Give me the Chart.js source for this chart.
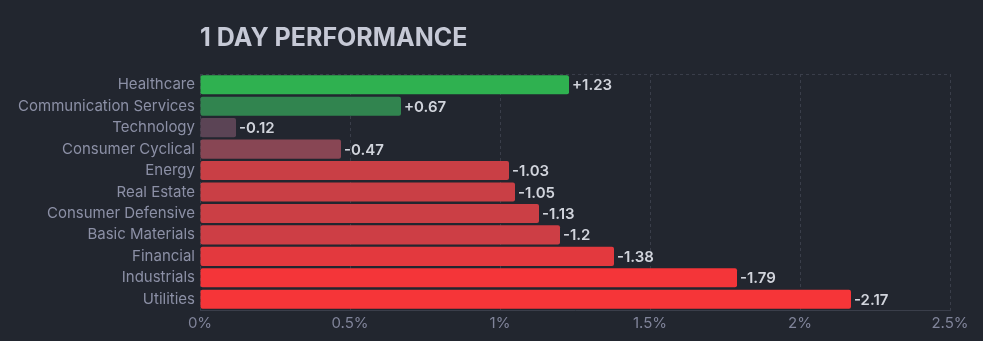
<!DOCTYPE html>
<html>
<head>
<meta charset="utf-8">
<script src="https://cdn.jsdelivr.net/npm/chart.js@4.4.1/dist/chart.umd.min.js"></script>
<style>
html,body{margin:0;padding:0;background:#22262f;}
#wrap{position:relative;width:983px;height:341px;}
</style>
</head>
<body>
<div id="wrap"><canvas id="c" width="983" height="341"></canvas></div>
<script>
const sectors = ["Healthcare","Communication Services","Technology","Consumer Cyclical","Energy","Real Estate","Consumer Defensive","Basic Materials","Financial","Industrials","Utilities"];
const changes = [1.23, 0.67, -0.12, -0.47, -1.03, -1.05, -1.13, -1.2, -1.38, -1.79, -2.17];
const barColors = ["#2fb150","#31844f","#5b4455","#884654","#c93f45","#c93f45","#cb3f45","#cd3e45","#e3393e","#f43539","#f63538"];
const xTicks = [0, 0.5, 1, 1.5, 2, 2.5];
const titleText = "1 DAY PERFORMANCE";

const FONT = "Inter, 'Noto Sans', sans-serif";
const gridColor = "#3a3e4a";

const titlePlugin = {
  id: 'titlePlugin',
  afterDraw(chart) {
    const ctx = chart.ctx;
    ctx.save();
    ctx.font = "bold 25px " + FONT;
    ctx.fillStyle = "#c6c9d6";
    ctx.textAlign = "left";
    ctx.textBaseline = "alphabetic";
    ctx.fillText(titleText, chart.chartArea.left, 46);
    ctx.restore();
  }
};

const valueLabels = {
  id: 'valueLabels',
  afterDatasetsDraw(chart) {
    const ctx = chart.ctx;
    const meta = chart.getDatasetMeta(0);
    ctx.save();
    ctx.font = "600 15px " + FONT;
    ctx.fillStyle = "#d1d4dc";
    ctx.textAlign = "left";
    ctx.textBaseline = "middle";
    meta.data.forEach((bar, i) => {
      const v = changes[i];
      const t = (v > 0 ? "+" : "") + v;
      ctx.fillText(t, bar.x + 3, bar.y + 1);
    });
    ctx.restore();
  }
};

new Chart(document.getElementById('c'), {
  type: 'bar',
  data: {
    labels: sectors,
    datasets: [{
      data: changes.map(v => Math.abs(v)),
      backgroundColor: barColors,
      borderWidth: 0,
      borderRadius: 2,
      borderSkipped: false,
      barPercentage: 0.89,
      categoryPercentage: 1
    }]
  },
  options: {
    indexAxis: 'y',
    responsive: false,
    animation: false,
    devicePixelRatio: 1,
    layout: { padding: { left: 0, right: 33, top: 74, bottom: 0 } },
    plugins: { legend: { display: false }, tooltip: { enabled: false } },
    scales: {
      x: {
        type: 'linear',
        min: 0, max: 2.5,
        afterBuildTicks(s) { s.ticks = xTicks.map(v => ({ value: v })); },
        afterFit(s) { s.height = 31; },
        grid: { color: gridColor, drawTicks: false, lineWidth: 1 },
        border: { display: true, color: gridColor, dash: [3, 3] },
        ticks: {
          color: "#80849a",
          font: { family: FONT, size: 15 },
          padding: 4,
          callback: v => v + "%"
        }
      },
      y: {
        afterFit(s) { s.width = 200; },
        grid: {
          drawTicks: false,
          color: c => (c.index === 0 ? gridColor : 'transparent'),
          tickBorderDash: [3, 3]
        },
        border: { display: false, dash: [3, 3] },
        ticks: {
          color: "#8c90a6",
          font: { family: FONT, size: 15 },
          padding: 5
        }
      }
    }
  },
  plugins: [titlePlugin, valueLabels]
});
</script>
</body>
</html>
